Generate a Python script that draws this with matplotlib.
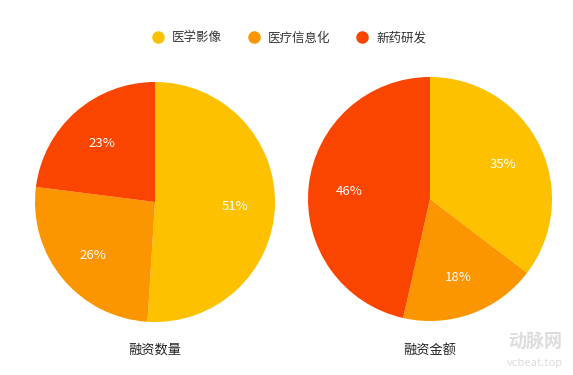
import matplotlib
matplotlib.use("Agg")
import matplotlib.pyplot as plt
from matplotlib.lines import Line2D

plt.rcParams['font.family'] = ['Noto Sans CJK SC', 'DejaVu Sans']

categories = ['医学影像', '医疗信息化', '新药研发']
count_share = [51, 26, 23]
amount_share = [35, 18, 46]
titles = ['融资数量', '融资金额']
colors = ['#FDC100', '#FB9500', '#FA4500']

W, H = 573, 375
fig = plt.figure(figsize=(W / 100, H / 100), dpi=100)

def add_pie(cx, cy, r, vals, title):
    ax = fig.add_axes([(cx - r) / W, (H - cy - r) / H, 2 * r / W, 2 * r / H])
    wedges, texts = ax.pie(vals, colors=colors, startangle=90, counterclock=False,
                           labels=[f'{v}%' for v in vals], labeldistance=0.67,
                           wedgeprops=dict(linewidth=0),
                           textprops=dict(color='white', fontsize=9.5, ha='center', va='center'))
    for t in texts:
        x, y = t.get_position()
        t.set_position((x, y - 0.015))
    ax.set_aspect('equal')
    ax.set_xlim(-1, 1)
    ax.set_ylim(-1, 1)
    ax.axis('off')
    fig.text(cx / W, 1 - 350 / H, title, ha='center', va='center', fontsize=9.5, color='#222222')

add_pie(155, 202, 120, count_share, titles[0])
add_pie(430, 199, 122, amount_share, titles[1])

handles = [Line2D([0], [0], marker='o', linestyle='', markersize=9, markerfacecolor=c,
                  markeredgewidth=0) for c in colors]
fig.legend(handles, categories, loc='center', bbox_to_anchor=(0.5045, 1 - 38 / H), ncol=3,
           frameon=False, fontsize=9, handlelength=1.0, handletextpad=0.62,
           columnspacing=2.06, labelcolor='#333333')

fig.text(535 / W, 1 - 341 / H, '动脉网', ha='center', va='center', fontsize=13,
         color='#dddddd', fontweight='bold')
fig.text(535 / W, 1 - 363 / H, 'vcbeat.top', ha='center', va='center', fontsize=8,
         color='#dddddd')

fig.savefig('out.png', dpi=100, facecolor='white')
